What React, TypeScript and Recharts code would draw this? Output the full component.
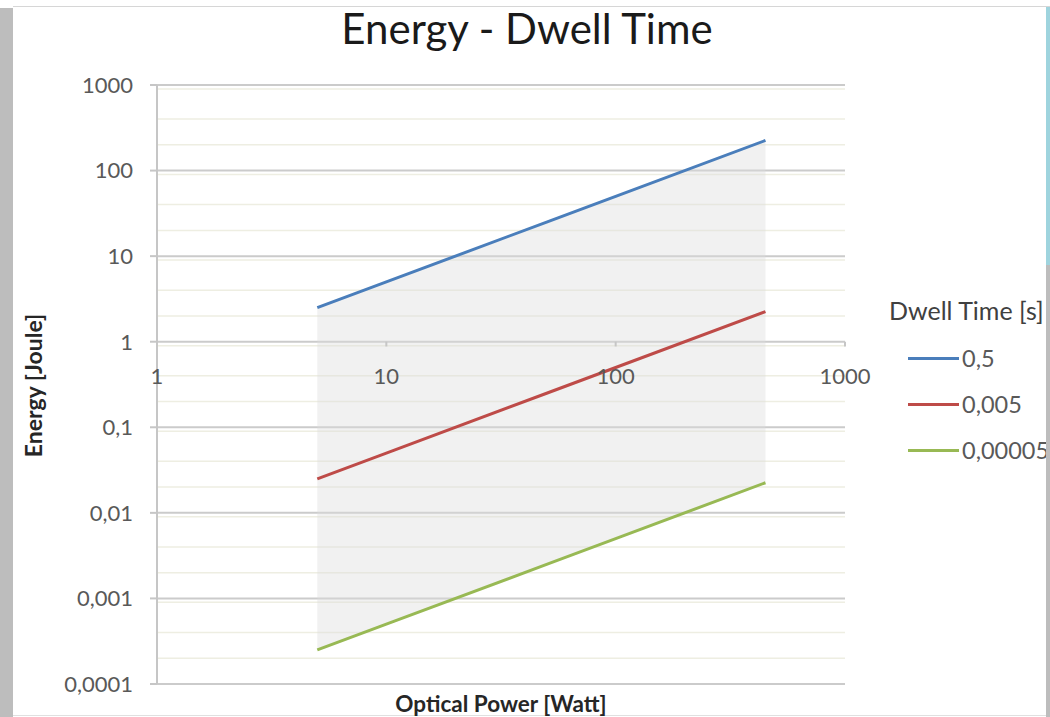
import React from 'react';
import {
  ComposedChart, Line, Area, XAxis, YAxis, CartesianGrid, Legend, ReferenceDot, ReferenceLine,
} from 'recharts';

// optical power [W] at which each series is evaluated
const POWER = [5, 10, 50, 100, 450];
// energy [J] per dwell time series
const E_05 = [2.5, 5, 25, 50, 225];
const E_0005 = [0.025, 0.05, 0.25, 0.5, 2.25];
const E_000005 = [0.00025, 0.0005, 0.0025, 0.005, 0.0225];

const SERIES = [
  { key: 'e05', name: '0,5', color: '#4a7ebb' },
  { key: 'e0005', name: '0,005', color: '#be4b48' },
  { key: 'e000005', name: '0,00005', color: '#98b954' },
];

const Y_TICKS = [0.0001, 0.001, 0.01, 0.1, 1, 10, 100, 1000];
const X_TICKS = [1, 10, 100, 1000];

// minor log gridlines (2..9 inside every decade)
const Y_MINOR: number[] = [];
Y_TICKS.slice(0, -1).forEach(d => {
  for (let k = 2; k <= 9; k++) Y_MINOR.push(+(k * d).toPrecision(3));
});

const data = POWER.map((p, i) => ({
  power: p,
  e05: E_05[i],
  e0005: E_0005[i],
  e000005: E_000005[i],
  band: [E_000005[i], E_05[i]],
}));

const FONT = 'Lato, "Open Sans", sans-serif';
const fmt = (v: number) => String(v).replace('.', ',');

const renderLegend = () => (
  <div style={{ fontFamily: FONT, color: '#595959' }}>
    <div style={{ fontSize: 25, color: '#404040', marginBottom: 10, whiteSpace: 'nowrap', lineHeight: '30px' }}>Dwell Time [s]</div>
    {SERIES.map(s => (
      <div key={s.key} style={{ display: 'flex', alignItems: 'center', height: 46 }}>
        <div style={{ width: 51, height: 3, background: s.color, marginLeft: 19, marginRight: 3 }} />
        <span style={{ fontSize: 23.5, whiteSpace: 'nowrap' }}>{s.name}</span>
      </div>
    ))}
  </div>
);

// y title, centred on the plot height
const YTitle = (props: any) => {
  const vb = props.viewBox || {};
  const cy = 85 + 599 / 2 + 1;
  const x = (vb.x ?? 0) + 33;
  return (
    <text
      x={x}
      y={cy}
      transform={`rotate(-90, ${x}, ${cy})`}
      textAnchor="middle"
      dominantBaseline="central"
      fontSize={23}
      fontWeight={700}
      fill="#262626"
      fontFamily={FONT}
    >
      Energy [Joule]
    </text>
  );
};

export default function App() {
  return (
    <div style={{ position: 'absolute', left: 0, top: 0, width: 1050, height: 717, background: '#fff', overflow: 'hidden' }}>
      {/* frame bits around the pasted chart */}
      <div style={{ position: 'absolute', left: 0, top: 8, width: 13, height: 709, background: '#bdbdbd' }} />
      <div style={{ position: 'absolute', left: 13, top: 6, width: 1037, height: 1, background: '#d6d6d6' }} />
      <div style={{ position: 'absolute', left: 13, top: 715, width: 1034, height: 1, background: '#e0e0e0' }} />

      <div style={{
        position: 'absolute', left: 0, width: 1050, top: 3, textAlign: 'center', fontFamily: FONT,
        fontSize: 42, color: '#1a1a1a', paddingLeft: 2,
      }}>
        Energy - Dwell Time
      </div>

      <ComposedChart
        width={1050}
        height={717}
        data={data}
        margin={{ top: 85, right: 205, bottom: 0, left: 0 }}
        style={{ position: 'absolute', left: 0, top: 0 }}
      >
        <CartesianGrid horizontalValues={Y_MINOR} vertical={false} stroke="#eeeee2" strokeWidth={1.5} />
        <CartesianGrid horizontalValues={Y_TICKS} vertical={false} stroke="#cbcbcb" strokeWidth={2} />
        <XAxis
          dataKey="power"
          type="number"
          scale="log"
          domain={[1, 1000]}
          ticks={X_TICKS}
          allowDataOverflow
          tick={false}
          tickLine={false}
          axisLine={false}
          height={33}
          label={{ value: 'Optical Power [Watt]', position: 'insideBottom', offset: 5, fontSize: 22.5, fontWeight: 700, fill: '#262626', fontFamily: FONT }}
        />
        <YAxis
          type="number"
          scale="log"
          domain={[0.0001, 1000]}
          ticks={Y_TICKS}
          allowDataOverflow
          width={157}
          tickFormatter={fmt}
          tick={{ fontSize: 22, fill: '#595959', fontFamily: FONT }}
          tickSize={7}
          tickMargin={17}
          tickLine={{ stroke: '#c6c6c6', strokeWidth: 2 }}
          axisLine={{ stroke: '#c6c6c6', strokeWidth: 2 }}
          label={<YTitle />}
        />

        <Area
          dataKey="band"
          type="linear"
          stroke="none"
          fill="#dcdcdc"
          fillOpacity={0.4}
          legendType="none"
          isAnimationActive={false}
        />

        {/* x axis crosses at y = 1 */}
        {X_TICKS.slice(1).map(t => (
          <ReferenceLine key={'xt' + t} segment={[{ x: t, y: 1 }, { x: t, y: 0.88 }]} stroke="#c6c6c6" strokeWidth={2} />
        ))}
        {X_TICKS.map(t => (
          <ReferenceDot
            key={'xl' + t}
            x={t}
            y={1}
            r={0}
            stroke="none"
            label={{ value: fmt(t), position: 'bottom', offset: 27, fontSize: 22, fill: '#595959', fontFamily: FONT }}
          />
        ))}

        {SERIES.map(s => (
          <Line
            key={s.key}
            dataKey={s.key}
            name={s.name}
            type="linear"
            stroke={s.color}
            strokeWidth={3}
            dot={false}
            isAnimationActive={false}
          />
        ))}

        <Legend
          content={renderLegend}
          layout="vertical"
          verticalAlign="middle"
          align="center"
          wrapperStyle={{ left: 889, top: 295, width: 170 }}
        />
      </ComposedChart>
      <div style={{ position: 'absolute', left: 1046, top: 7, width: 4, height: 258, background: '#9fd4de' }} />
      <div style={{ position: 'absolute', left: 1046, top: 265, width: 4, height: 452, background: '#bdbdbd' }} />
    </div>
  );
}
